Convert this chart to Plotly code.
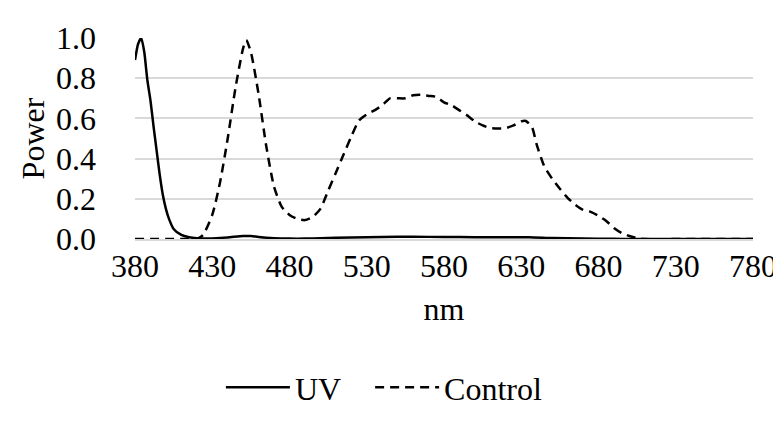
import plotly.graph_objects as go

# UV spectrum (nm, relative power)
uv_nm = [380, 382, 384, 386, 388, 390, 392, 394, 396, 398, 400, 402, 405, 410, 415, 420, 425,
         430, 440, 450, 455, 460, 470, 480, 490, 500, 520, 540, 560, 580, 600, 620, 635, 650,
         670, 690, 700, 740, 780]
uv_power = [0.89, 0.97, 1.0, 0.93, 0.79, 0.69, 0.56, 0.44, 0.32, 0.22, 0.15, 0.10, 0.05, 0.02,
            0.009, 0.004, 0.002, 0.003, 0.008, 0.015, 0.015, 0.01, 0.004, 0.002, 0.002, 0.004,
            0.008, 0.01, 0.011, 0.01, 0.009, 0.009, 0.009, 0.005, 0.002, 0.001, 0.0, 0.0, 0.0]

# Control spectrum (nm, relative power)
ctrl_nm = [380, 390, 400, 410, 420, 424, 430, 435, 440, 445, 450, 452, 455, 460, 465, 470, 475,
           480, 485, 490, 495, 500, 505, 510, 515, 520, 525, 530, 535, 540, 545, 550, 555, 560,
           565, 570, 575, 580, 585, 590, 595, 600, 605, 610, 615, 620, 625, 630, 633, 637, 640,
           645, 650, 655, 660, 665, 670, 675, 680, 685, 690, 695, 700, 705, 710, 740, 780]
ctrl_power = [0, 0, 0, 0, 0, 0.02, 0.12, 0.28, 0.5, 0.75, 0.95, 0.99, 0.93, 0.72, 0.46, 0.26, 0.16,
              0.12, 0.10, 0.094, 0.11, 0.15, 0.24, 0.33, 0.42, 0.51, 0.59, 0.62, 0.64, 0.665, 0.70,
              0.70, 0.70, 0.715, 0.717, 0.712, 0.707, 0.68, 0.665, 0.64, 0.615, 0.585, 0.565, 0.552,
              0.55, 0.552, 0.565, 0.585, 0.587, 0.555, 0.47, 0.36, 0.30, 0.25, 0.205, 0.17, 0.145,
              0.135, 0.115, 0.09, 0.055, 0.03, 0.015, 0.005, 0, 0, 0]

x_ticks = [380, 430, 480, 530, 580, 630, 680, 730, 780]
y_ticks = [0.0, 0.2, 0.4, 0.6, 0.8, 1.0]

FONT = "Liberation Serif"
FS = 32
NBSP = "\u00a0"

fig = go.Figure()
fig.add_trace(go.Scatter(x=ctrl_nm, y=ctrl_power, name="Control", mode="lines",
                         line=dict(color="black", width=2.5, dash="9px,6px", shape="spline", smoothing=0.6)))
fig.add_trace(go.Scatter(x=uv_nm, y=uv_power, name="UV" + NBSP * 3, mode="lines",
                         line=dict(color="black", width=2.5, shape="spline", smoothing=0.6)))

fig.update_layout(
    width=781, height=423,
    margin=dict(l=127, r=23, t=25, b=192),
    paper_bgcolor="white", plot_bgcolor="white",
    font=dict(family=FONT, size=FS, color="black"),
    showlegend=True,
    legend=dict(orientation="h", x=0.139, xanchor="left", y=-0.738, yanchor="middle",
                traceorder="reversed", font=dict(family=FONT, size=FS),
                itemwidth=64),
    xaxis=dict(range=[380, 780], tickvals=x_ticks, ticktext=[str(v) for v in x_ticks],
               showgrid=False, zeroline=False, showline=True, linecolor="#d9d9d9", linewidth=1.5,
               ticks="", ticklabelstandoff=-2, ticklabeloverflow="allow",
               title=dict(text="nm", standoff=14, font=dict(family=FONT, size=FS))),
    yaxis=dict(range=[0, 1.0], tickvals=y_ticks, ticktext=[f"{v:.1f}" for v in y_ticks],
               showgrid=True, gridcolor="#d9d9d9", gridwidth=1.5, zeroline=False,
               showline=False, ticks="", ticklabelstandoff=38, ticklabeloverflow="allow",
               title=dict(text="Power", standoff=1, font=dict(family=FONT, size=FS))),
)

fig.write_html("out.html")
